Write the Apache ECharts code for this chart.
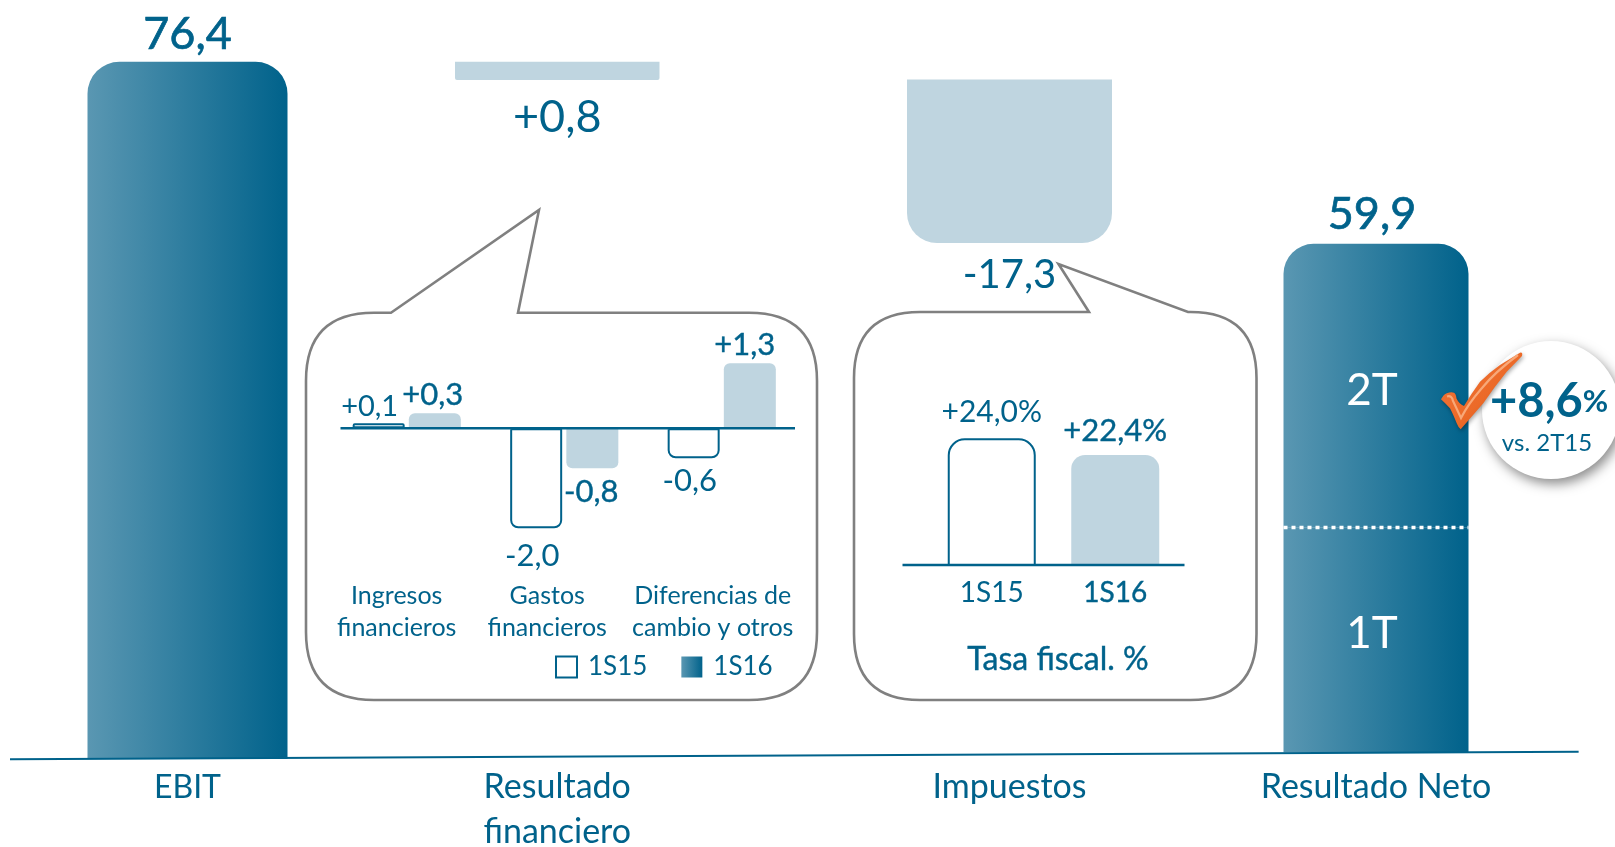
<!DOCTYPE html>
<html><head><meta charset="utf-8">
<style>html,body{margin:0;padding:0;background:#fff}#c{width:1615px;height:847px}</style>
<script src="https://cdn.jsdelivr.net/npm/echarts@6/dist/echarts.min.js"></script>
</head><body><div id="c"></div>
<script>
// Main waterfall. The source picture is not drawn to scale, so the bar extents
// below are read from the picture, in units of the value axis; printed values are separate.
const categories = ['EBIT', 'Resultado\nfinanciero', 'Impuestos', 'Resultado Neto'];
const printedValues = ['76,4', '+0,8', '-17,3', '59,9'];
const barFloor = [0, 74.4, 56.54, 0.75];
const barExtent = [76.4, 2.0, 17.9];
const netParts = ['1T', '2T'];
const netExtent = [24.63, 31.06];

// Inset: financial result
const financeCategories = ['Ingresos\nfinancieros', 'Gastos\nfinancieros', 'Diferencias de\ncambio y otros'];
const finance1S15 = [0.1, -2.0, -0.6];
const finance1S16 = [0.3, -0.8, 1.3];

// Inset: tax rate
const taxCategories = ['1S15', '1S16'];
const taxRate = [24.0, 22.4];

// Right hand badge
const badgeValue = '+8,6';
const badgeNote = 'vs. 2T15';
const taxTitle = 'Tasa fiscal. %';

const BLUE = '#00628B', PALE = '#BFD5E0', GREY = '#808080', FONT = 'Lato, "Open Sans", sans-serif';
const grad = () => new echarts.graphic.LinearGradient(0, 0, 1, 0, [
  { offset: 0, color: '#5A97B2' }, { offset: 1, color: BLUE }]);
const signed = v => (v > 0 ? '+' : '') + v.toFixed(1).replace('.', ',');
// medium weight look: regular face with a hairline outline
const medium = w => ({ fontWeight: 400, textBorderColor: BLUE, textBorderWidth: w });

const grids = [], xAxes = [], yAxes = [], series = [];

// ---- main columns: one grid per column, because the columns are unevenly spaced
const colLayout = [
  { left: 87.5, width: 200, fontSize: 32 }, { left: 455, width: 204.5, fontSize: 34 },
  { left: 907, width: 205, fontSize: 34 }, { left: 1283.5, width: 185, fontSize: 34 }];
colLayout.forEach((c, i) => {
  grids.push({ left: c.left, width: c.width, top: 61.7, height: 697.3, outerBoundsMode: 'none' });
  xAxes.push({
    gridIndex: i, type: 'category', data: [categories[i]],
    axisLine: { show: false }, axisTick: { show: false },
    axisLabel: { color: BLUE, fontFamily: FONT, fontSize: c.fontSize, lineHeight: 45, margin: 6, interval: 0 }
  });
  yAxes.push({ gridIndex: i, type: 'value', min: 0, max: 76.4, show: false });
  series.push({
    type: 'bar', name: 'base' + i, stack: 's' + i, xAxisIndex: i, yAxisIndex: i, barWidth: '100%', silent: true,
    itemStyle: { color: 'transparent' }, data: [barFloor[i]]
  });
});
const mainStyle = [
  { itemStyle: { color: grad(), borderRadius: [32, 32, 0, 0] },
    label: Object.assign({ position: 'top', distance: 5, fontSize: 45 }, medium(0.7)) },
  { itemStyle: { color: PALE, borderRadius: [0, 0, 2, 2] },
    label: { position: 'bottom', distance: 15, fontSize: 45, fontWeight: 400 } },
  { itemStyle: { color: PALE, borderRadius: [0, 0, 30, 30] },
    label: { position: 'bottom', distance: 12, fontSize: 40, fontWeight: 400, offset: [0, 0] } }
];
barExtent.forEach((v, i) => {
  series.push({
    type: 'bar', name: categories[i].replace('\n', ' '), stack: 's' + i, xAxisIndex: i, yAxisIndex: i, barWidth: '100%',
    itemStyle: mainStyle[i].itemStyle,
    label: Object.assign({ show: true, color: BLUE, fontFamily: FONT, formatter: () => printedValues[i] }, mainStyle[i].label),
    data: [v]
  });
});
series.push({
  type: 'bar', name: netParts[0], stack: 's3', xAxisIndex: 3, yAxisIndex: 3, barWidth: '100%',
  itemStyle: { color: grad() },
  label: { show: true, position: 'inside', offset: [-4, -6], color: '#fff', fontFamily: FONT, fontSize: 44, formatter: netParts[0] },
  data: [netExtent[0]]
});
series.push({
  type: 'bar', name: netParts[1], stack: 's3', xAxisIndex: 3, yAxisIndex: 3, barWidth: '100%',
  itemStyle: { color: grad(), borderRadius: [30, 30, 0, 0] },
  label: { show: true, position: 'inside', offset: [-4, 5], color: '#fff', fontFamily: FONT, fontSize: 44, formatter: netParts[1] },
  data: [netExtent[1]]
});
// total label above the net column
series.push({
  type: 'bar', name: 'netTotal', stack: 's3', xAxisIndex: 3, yAxisIndex: 3, barWidth: '100%', silent: true,
  itemStyle: { color: 'transparent' },
  label: Object.assign({ show: true, position: 'top', distance: 7, offset: [-4, 0], color: BLUE, fontFamily: FONT, fontSize: 45, formatter: () => printedValues[3] }, medium(0.7)),
  data: [0]
});

// ---- finance inset
const gF = grids.length;
grids.push({ left: 328, width: 472.5, top: 340, height: 240, outerBoundsMode: 'none' });
const labelShift = [20, 34, 18];
xAxes.push({
  gridIndex: gF, type: 'category', position: 'bottom',
  data: financeCategories.map((n, i) => ({ value: n, textStyle: { padding: [0, labelShift[i], 0, 0] } })),
  axisLine: { show: false, onZero: false }, axisTick: { show: false },
  axisLabel: { color: BLUE, fontFamily: FONT, fontSize: 25, lineHeight: 32, margin: 0, interval: 0 }
});
yAxes.push({ gridIndex: gF, type: 'value', min: -151.7 / 50, max: 88.3 / 50, show: false });
const insetLabel = { show: true, color: BLUE, fontFamily: FONT, fontSize: 31, formatter: p => signed(p.value) };
const farRadius = (v, r) => v > 0 ? [r, r, 0, 0] : [0, 0, r, r];
const itemLabel = [
  [{ position: 'top', distance: 2, offset: [-9, 0], fontSize: 29 }, { position: 'bottom', distance: 12, offset: [-4, 0] }, { position: 'bottom', distance: 7, offset: [-4, 0] }],
  [Object.assign({ position: 'top', distance: 3, offset: [-2, 0] }, medium(0.4)), Object.assign({ position: 'bottom', distance: 8, offset: [-1, 0] }, medium(0.4)), Object.assign({ position: 'top', distance: 3, offset: [-5, 0] }, medium(0.4))]
];
series.push({
  type: 'bar', name: '1S15', xAxisIndex: gF, yAxisIndex: gF, barWidth: 52, barGap: '8%',
  label: insetLabel,
  itemStyle: { color: '#fff', borderColor: BLUE, borderWidth: 2 },
  data: finance1S15.map((v, i) => ({ value: v, label: itemLabel[0][i],
    itemStyle: { borderRadius: farRadius(v, v === 0.1 ? 1 : 7) } }))
});
series.push({
  type: 'bar', name: '1S16', xAxisIndex: gF, yAxisIndex: gF, barWidth: 52,
  label: insetLabel,
  itemStyle: { color: PALE },
  data: finance1S16.map((v, i) => ({ value: v, label: itemLabel[1][i],
    itemStyle: { borderRadius: farRadius(v, 6) } }))
});

// ---- tax inset (the axis starts well above zero, as the picture's does)
const gT = grids.length;
grids.push({ left: 930, width: 247, top: 438.3, height: 126.7, outerBoundsMode: 'none' });
xAxes.push({
  gridIndex: gT, type: 'category',
  data: taxCategories.map((n, i) => ({ value: n, textStyle: i ? medium(0.4) : {} })),
  axisLine: { show: false }, axisTick: { show: false },
  axisLabel: { color: BLUE, fontFamily: FONT, fontSize: 28, margin: 14, interval: 0 }
});
yAxes.push({ gridIndex: gT, type: 'value', min: 11.86, max: 24, show: false });
series.push({
  type: 'bar', name: 'Tasa fiscal', xAxisIndex: gT, yAxisIndex: gT, barWidth: 88,
  label: { show: true, position: 'top', color: BLUE, fontFamily: FONT, fontSize: 30, distance: 11, formatter: p => signed(p.value) + '%' },
  data: taxRate.map((v, i) => i === 0
    ? { value: v, itemStyle: { color: '#fff', borderColor: BLUE, borderWidth: 2, borderRadius: [16, 16, 0, 0] } }
    : { value: v, itemStyle: { color: PALE, borderRadius: [14, 14, 0, 0] }, label: Object.assign({ distance: 8, fontSize: 31 }, medium(0.4)) })
});

// ---- decoration: callouts, baselines, divider, badge
const bubble = (l, t, r, b, rad, x1, tx, ty, x2) =>
  `M${x1} ${t}L${tx} ${ty}L${x2} ${t}` +
  `L${r - rad} ${t}Q${r} ${t} ${r} ${t + rad}L${r} ${b - rad}Q${r} ${b} ${r - rad} ${b}` +
  `L${l + rad} ${b}Q${l} ${b} ${l} ${b - rad}L${l} ${t + rad}Q${l} ${t} ${l + rad} ${t}L${x1} ${t}Z`;
const pathEl = (d, style) => ({ type: 'path', shape: { pathData: d }, style });
series.push({
  type: 'custom', name: 'callouts', coordinateSystem: 'none', silent: true, z: 1, data: [0],
  renderItem: () => ({ type: 'group', children: [
    pathEl(bubble(306, 312.7, 817, 700, 68, 391, 539, 210, 518), { fill: 'none', stroke: GREY, lineWidth: 2.6 }),
    pathEl(bubble(854, 312, 1256.5, 700, 66, 1089, 1058.5, 264, 1188), { fill: 'none', stroke: GREY, lineWidth: 2.6 })
  ] })
});
series.push({
  type: 'custom', name: 'check', coordinateSystem: 'none', silent: true, z: 20, data: [0],
  renderItem: () => ({ type: 'group', children: [
    pathEl('M1441 399.3Q1444 394 1446.7 393.3Q1451 391.5 1454 392.7Q1456 394 1456.5 398.5Q1459 404 1464 406Q1471 394 1480 381.7Q1490 372 1500 365L1520 352.7Q1523 352 1522 356L1506.7 371.7Q1495 386 1483.3 403.3L1460.7 429.3Q1458 427 1456.7 423.3Q1453 414 1450 408.3Q1445 403 1441 399.3Z',
      { fill: new echarts.graphic.LinearGradient(0, 0, 1, 1, [
        { offset: 0, color: '#F0733A' }, { offset: 0.55, color: '#EC6A28' }, { offset: 1, color: '#C84A18' }]),
        shadowBlur: 4, shadowColor: 'rgba(0,0,0,0.35)', shadowOffsetX: 1, shadowOffsetY: 2 }),
    pathEl('M1447 396.5Q1452 395 1453 401L1461 418Q1468 404 1482 388Q1495 372 1518 355',
      { fill: 'none', stroke: '#F8A878', lineWidth: 2.2 })
  ] })
});
const hLine = (x1, y1, x2, y2, w, extra) => ({
  type: 'line', z: 5, shape: { x1, y1, x2, y2 },
  style: Object.assign({ stroke: BLUE, lineWidth: w }, extra || {})
});
const graphic = [
  hLine(10, 759.3, 1578.6, 751.7, 2),
  hLine(340.5, 428.3, 795, 428.3, 2.4),
  hLine(902.5, 565, 1184.5, 565, 2.6),
  hLine(1283.5, 527.5, 1468.5, 527.5, 3.5, { stroke: '#fff', lineDash: [4, 4] }),
  { type: 'text', z: 6, style: { x: 1058, y: 660, text: taxTitle, align: 'center', verticalAlign: 'middle',
      fill: BLUE, stroke: BLUE, lineWidth: 0.4, font: '400 32px ' + FONT } },
  { type: 'circle', z: 6, shape: { cx: 1551, cy: 410, r: 69 },
    style: { fill: '#fff', shadowBlur: 12, shadowColor: 'rgba(0,0,0,0.45)', shadowOffsetX: 3, shadowOffsetY: 5 } },
  { type: 'text', z: 7, style: { x: 1549, y: 402, align: 'center', verticalAlign: 'middle',
      text: '{a|' + badgeValue + '}{b|%}', rich: {
        a: { fill: BLUE, font: '700 47px ' + FONT },
        b: { fill: BLUE, font: '700 31px ' + FONT } } } },
  { type: 'text', z: 7, style: { x: 1547, y: 443, text: badgeNote, align: 'center', verticalAlign: 'middle',
      fill: BLUE, font: '400 24px ' + FONT } }
];

const chart = echarts.init(document.getElementById('c'), null, { renderer: 'canvas' });
chart.setOption({
  animation: false,
  backgroundColor: '#fff',
  textStyle: { fontFamily: FONT },
  grid: grids, xAxis: xAxes, yAxis: yAxes, series, graphic,
  legend: {
    left: 555, top: 654, padding: 0, itemWidth: 21, itemHeight: 21, itemGap: 34, icon: 'rect', selectedMode: false,
    textStyle: { color: BLUE, fontFamily: FONT, fontSize: 26, padding: [0, 0, 0, 6] },
    data: [
      { name: '1S15', itemStyle: { color: '#fff', borderColor: BLUE, borderWidth: 2 } },
      { name: '1S16', itemStyle: { color: grad(), borderWidth: 0 } }
    ]
  }
});
</script></body></html>
